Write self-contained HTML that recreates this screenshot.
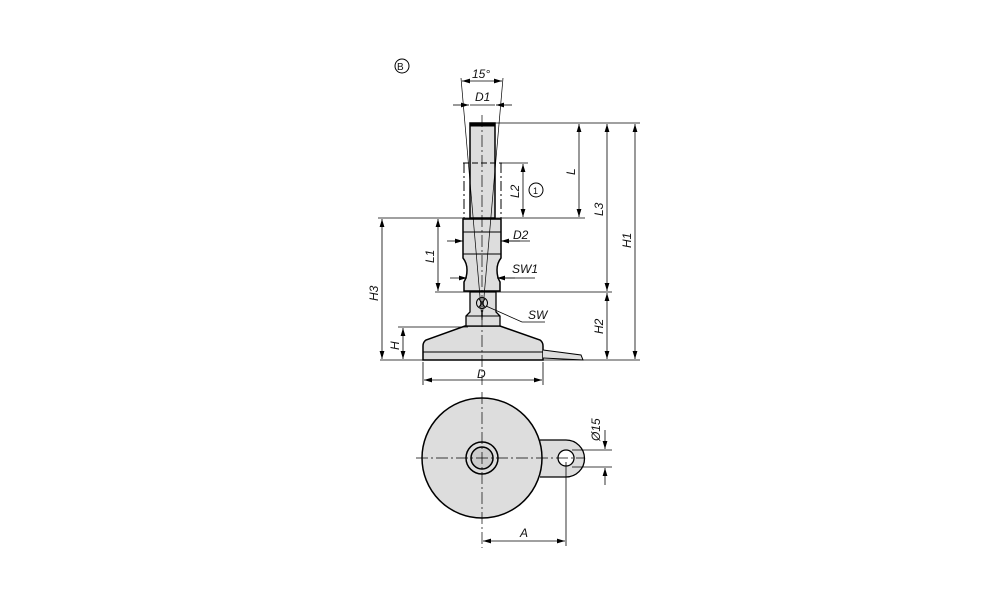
<!DOCTYPE html>
<html><head><meta charset="utf-8"><style>
html,body{margin:0;padding:0;background:#fff;}
svg{display:block;}
text{font-family:"Liberation Sans",sans-serif;font-style:italic;font-size:12px;fill:#111;}
</style></head><body>
<svg width="1000" height="611" viewBox="0 0 1000 611" xmlns="http://www.w3.org/2000/svg">
<defs>
<marker id="a" viewBox="0 0 10 6" refX="10" refY="3" markerWidth="8" markerHeight="5" orient="auto-start-reverse" markerUnits="userSpaceOnUse"><path d="M0,0 L10,3 L0,6z" fill="#000"/></marker>
</defs>
<g stroke="#000" fill="none" stroke-width="1">
<circle cx="402" cy="66" r="7"/>
<path d="M465,326 L500,326 L540,340 Q543,342 543,346 L543,360 L423,360 L423,346 Q423,342 426,340 Z" fill="#ddd" stroke-width="1.5"/>
<line x1="423" y1="352" x2="543" y2="352"/>
<path d="M543,350 L581,355 L583,360 L543,358" fill="#ddd"/>
<path d="M466,326 L466,316 L470,312 L470,292 L496,292 L496,312 L500,316 L500,326 Z" fill="#ddd" stroke-width="1.3"/>
<line x1="466" y1="316" x2="500" y2="316"/>
<circle cx="482" cy="303" r="5.5"/>
<path d="M479,299 L485,307 M485,299 L479,307"/>
<path d="M463,219 L501,219 L501,258 Q497,263 497,270 Q497,277 500,282 L500,291 L464,291 L464,282 Q467,277 467,270 Q467,263 463,258 Z" fill="#ddd" stroke-width="1.5"/>
<line x1="463" y1="232" x2="501" y2="232"/>
<line x1="463" y1="254" x2="501" y2="254"/>
<rect x="470" y="123" width="25" height="95" fill="#ddd" stroke-width="1.5"/>
<rect x="470" y="123" width="25" height="3" fill="#000"/>
<line x1="463" y1="163" x2="502" y2="163" stroke-dasharray="6,3"/>
<line x1="464" y1="163" x2="464" y2="218" stroke-dasharray="10,3,2,3"/>
<line x1="501" y1="163" x2="501" y2="218" stroke-dasharray="10,3,2,3"/>
<line x1="461" y1="78" x2="482" y2="320" stroke-width="0.7"/>
<line x1="503" y1="78" x2="482" y2="320" stroke-width="0.7"/>
<line x1="482" y1="115" x2="482" y2="385" stroke-width="0.7" stroke-dasharray="12,3,2,3"/>
<line x1="495" y1="123" x2="640" y2="123" stroke-width="0.8"/>
<line x1="378" y1="218" x2="585" y2="218" stroke-width="0.8"/>
<line x1="435" y1="292" x2="612" y2="292" stroke-width="0.8"/>
<line x1="380" y1="360" x2="640" y2="360" stroke-width="0.8"/>
<line x1="398" y1="327" x2="468" y2="327" stroke-width="0.8"/>
<line x1="502" y1="163" x2="528" y2="163" stroke-width="0.8"/>
<line x1="423" y1="362" x2="423" y2="385" stroke-width="0.8"/>
<line x1="543" y1="362" x2="543" y2="385" stroke-width="0.8"/>
<g stroke-width="0.8">
<line x1="635" y1="124" x2="635" y2="359" marker-start="url(#a)" marker-end="url(#a)"/>
<line x1="607" y1="124" x2="607" y2="291" marker-start="url(#a)" marker-end="url(#a)"/>
<line x1="607" y1="293" x2="607" y2="359" marker-start="url(#a)" marker-end="url(#a)"/>
<line x1="579" y1="124" x2="579" y2="217" marker-start="url(#a)" marker-end="url(#a)"/>
<line x1="523" y1="164" x2="523" y2="217" marker-start="url(#a)" marker-end="url(#a)"/>
<line x1="382" y1="219" x2="382" y2="359" marker-start="url(#a)" marker-end="url(#a)"/>
<line x1="438" y1="219" x2="438" y2="291" marker-start="url(#a)" marker-end="url(#a)"/>
<line x1="403" y1="328" x2="403" y2="359" marker-start="url(#a)" marker-end="url(#a)"/>
<line x1="424" y1="380" x2="542" y2="380" marker-start="url(#a)" marker-end="url(#a)"/>
<line x1="462" y1="81" x2="502" y2="81" marker-start="url(#a)" marker-end="url(#a)"/>
<line x1="453" y1="105" x2="469" y2="105" marker-end="url(#a)"/>
<line x1="512" y1="105" x2="496" y2="105" marker-end="url(#a)"/>
<line x1="470" y1="105" x2="495" y2="105"/>
<line x1="447" y1="241" x2="463" y2="241" marker-end="url(#a)"/>
<line x1="520" y1="241" x2="501" y2="241" marker-end="url(#a)"/>
<line x1="501" y1="241" x2="530" y2="241"/>
<line x1="450" y1="278" x2="467" y2="278" marker-end="url(#a)"/>
<line x1="515" y1="278" x2="497" y2="278" marker-end="url(#a)"/>
<line x1="497" y1="278" x2="535" y2="278"/>
<polyline points="486,306 522,322 545,322"/>
</g>
<circle cx="536" cy="190" r="7"/>
<path d="M540,440 L566,440 A18,18 0 0 1 566,477 L540,477" fill="#ddd" stroke-width="1.3"/>
<circle cx="482" cy="458" r="60" fill="#ddd" stroke-width="1.5"/>
<circle cx="482" cy="458" r="16" stroke-width="1.5"/>
<circle cx="482" cy="458" r="11" fill="#ccc" stroke-width="1.5"/>
<circle cx="566" cy="458" r="8" fill="#fff" stroke-width="1.3"/>
<line x1="416" y1="458" x2="585" y2="458" stroke-width="0.7" stroke-dasharray="12,3,2,3"/>
<line x1="482" y1="392" x2="482" y2="548" stroke-width="0.7" stroke-dasharray="12,3,2,3"/>
<line x1="566" y1="462" x2="566" y2="546" stroke-width="0.8"/>
<line x1="572" y1="450" x2="612" y2="450" stroke-width="0.8"/>
<line x1="572" y1="467" x2="612" y2="467" stroke-width="0.8"/>
<line x1="605" y1="430" x2="605" y2="449" stroke-width="0.8" marker-end="url(#a)"/>
<line x1="605" y1="485" x2="605" y2="468" stroke-width="0.8" marker-end="url(#a)"/>
<line x1="483" y1="541" x2="565" y2="541" stroke-width="0.8" marker-start="url(#a)" marker-end="url(#a)"/>
</g>
<text x="397" y="70" style="font-style:normal;font-size:10px">B</text>
<text x="472" y="78">15°</text>
<text x="475" y="101">D1</text>
<text x="513" y="239">D2</text>
<text x="512" y="273">SW1</text>
<text x="528" y="319">SW</text>
<text x="477" y="378">D</text>
<text x="520" y="537">A</text>
<text x="533" y="194" style="font-style:normal;font-size:9px">1</text>
<text transform="translate(575,175) rotate(-90)">L</text>
<text transform="translate(519,198) rotate(-90)">L2</text>
<text transform="translate(603,216) rotate(-90)">L3</text>
<text transform="translate(631,248) rotate(-90)">H1</text>
<text transform="translate(603,334) rotate(-90)">H2</text>
<text transform="translate(378,301) rotate(-90)">H3</text>
<text transform="translate(434,263) rotate(-90)">L1</text>
<text transform="translate(399,350) rotate(-90)">H</text>
<text transform="translate(600,441) rotate(-90)">Ø15</text>
</svg>
</body></html>
